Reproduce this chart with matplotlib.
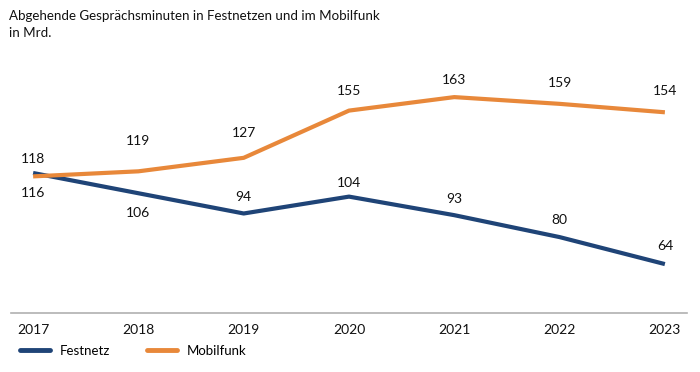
import numpy as np
import matplotlib.pyplot as plt

plt.rcParams['font.family'] = ['Lato', 'DejaVu Sans']

# data
years = [2017, 2018, 2019, 2020, 2021, 2022, 2023]
festnetz = [118, 106, 94, 104, 93, 80, 64]
mobilfunk = [116, 119, 127, 155, 163, 159, 154]

# label offsets in points (positive = above the line)
off_fest = [10, -14, 12, 10, 12, 12, 13]
off_mobil = [-12, 22, 18, 14, 12, 15, 15]

blue = '#1f4477'
orange = '#e8883a'

fig = plt.figure(figsize=(7, 3.72), dpi=100)
ax = fig.add_axes([11 / 700, 59 / 372, 676 / 700, 253 / 372])

ax.plot(years, festnetz, color=blue, lw=3, solid_capstyle='butt', label='Festnetz')
ax.plot(years, mobilfunk, color=orange, lw=3, solid_capstyle='butt', label='Mobilfunk')

for x, y, o in zip(years, festnetz, off_fest):
    ax.annotate(str(y), (x, y), xytext=(0, o), textcoords='offset points',
                ha='center', va='center', fontsize=10, color='#111111')
for x, y, o in zip(years, mobilfunk, off_mobil):
    ax.annotate(str(y), (x, y), xytext=(0, o), textcoords='offset points',
                ha='center', va='center', fontsize=10, color='#111111')

ax.set_xlim(2016.79, 2023.21)
ax.set_ylim(35, 185)
ax.set_xticks(years)
ax.set_xticklabels([str(y) for y in years], fontsize=10, color='#111111')
ax.tick_params(axis='x', length=0, pad=8)
ax.set_yticks([])
for s in ['top', 'right', 'left']:
    ax.spines[s].set_visible(False)
ax.spines['bottom'].set_color('#b0b0b0')
ax.spines['bottom'].set_linewidth(1.2)

fig.text(9 / 700, 1 - 16 / 372, 'Abgehende Gesprächsminuten in Festnetzen und im Mobilfunk',
         fontsize=9.6, va='center', ha='left', color='#111111')
fig.text(9 / 700, 1 - 33 / 372, 'in Mrd.', fontsize=9.6, va='center', ha='left', color='#111111')

leg = fig.legend(loc='center left', bbox_to_anchor=(20 / 700, 1 - 351 / 372), ncol=2,
                 frameon=False, fontsize=9.5, handlelength=2.3, columnspacing=2.8,
                 handletextpad=0.7, borderaxespad=0, borderpad=0)
for line in leg.get_lines():
    line.set_linewidth(3.5)
    line.set_solid_capstyle('round')

fig.savefig('out.png', dpi=100)
